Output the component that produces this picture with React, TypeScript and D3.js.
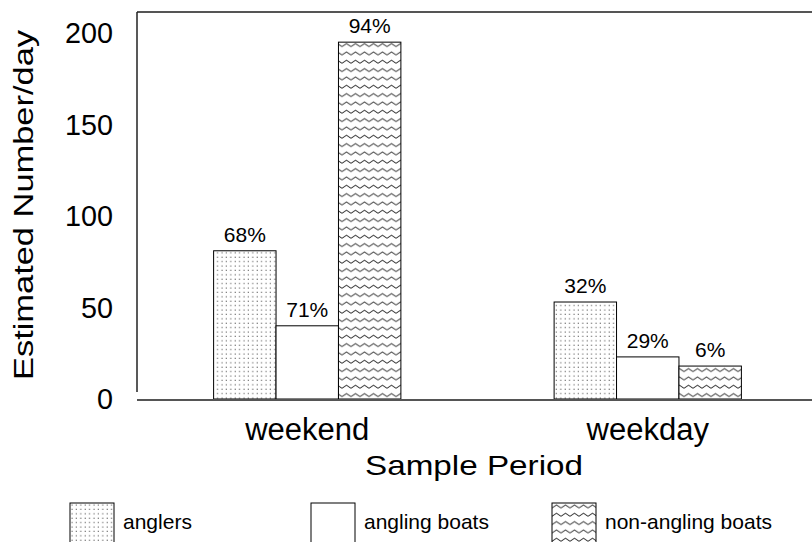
import React from 'react';
import * as d3 from 'd3';

const periods = ['weekend', 'weekday'];
const seriesNames = ['anglers', 'angling boats', 'non-angling boats'];
const anglers = [81, 53];
const anglingBoats = [40, 23];
const nonAnglingBoats = [195, 18];
const anglersPct = ['68%', '32%'];
const anglingBoatsPct = ['71%', '29%'];
const nonAnglingPct = ['94%', '6%'];
const yTicks = [0, 50, 100, 150, 200];

const W = 812;
const H = 542;
const font = '"Liberation Sans", Arial, sans-serif';

export default function App() {
  const x0 = d3.scaleBand<string>().domain(periods).range([137, 818]).paddingInner(0.45).paddingOuter(0.225);
  const x1 = d3.scaleBand<string>().domain(seriesNames).range([0, x0.bandwidth()]);
  const y = d3.scaleLinear().domain([0, 200]).range([399, 33]);

  const values = [anglers, anglingBoats, nonAnglingBoats];
  const pcts = [anglersPct, anglingBoatsPct, nonAnglingPct];
  const fills = ['url(#dots)', '#ffffff', 'url(#zigzag)'];

  const bars = periods.flatMap((p, i) =>
    seriesNames.map((s, j) => ({ p, s, v: values[j][i], pct: pcts[j][i], fill: fills[j] }))
  );

  const legendX = d3.scalePoint<string>().domain(seriesNames).range([70, 552]);

  return (
    <svg width={W} height={H} style={{ position: 'fixed', left: 0, top: 0, background: '#fff' }}>
      <defs>
        <pattern id="dots" patternUnits="userSpaceOnUse" width={4.4} height={4.4}>
          <rect width={4.4} height={4.4} fill="#fff" />
          <rect x={1.5} y={1.5} width={1} height={1} fill="#333" />
        </pattern>
        <pattern id="zigzag" patternUnits="userSpaceOnUse" width={9} height={25 / 3}>
          <rect width={9} height={25 / 3} fill="#fff" />
          <path d="M0,5 L4.5,2 L9,5" fill="none" stroke="#333" strokeWidth={1} />
        </pattern>
      </defs>

      {/* frame */}
      <line x1={137} x2={812} y1={12} y2={12} stroke="#555" strokeWidth={2} />
      <line x1={137} x2={137} y1={12} y2={392} stroke="#222" strokeWidth={1.5} />

      {/* bars */}
      {bars.map((d, k) => {
        const bx = (x0(d.p) ?? 0) + (x1(d.s) ?? 0);
        const bw = x1.bandwidth();
        return (
          <g key={k}>
            <rect x={bx} y={y(d.v)} width={bw} height={y(0) - y(d.v)} fill={d.fill} stroke="#000" strokeWidth={1} />
            <text x={bx + bw / 2} y={y(d.v) - 9} textAnchor="middle" fontFamily={font} fontSize={21} fill="#000">
              {d.pct}
            </text>
          </g>
        );
      })}

      <line x1={137} x2={812} y1={400} y2={400} stroke="#555" strokeWidth={2} />

      {/* y ticks */}
      {yTicks.map((t) => (
        <text key={t} x={113} y={y(t)} dy="0.36em" textAnchor="end" fontFamily={font} fontSize={29}
          textLength={String(t).length * 16} lengthAdjust="spacingAndGlyphs">
          {t}
        </text>
      ))}
      <text transform="translate(33,205) rotate(-90)" textAnchor="middle" fontFamily={font} fontSize={27}
        textLength={350} lengthAdjust="spacingAndGlyphs">
        Estimated Number/day
      </text>

      {/* x ticks */}
      {periods.map((p) => (
        <text key={p} x={(x0(p) ?? 0) + x0.bandwidth() / 2} y={440} textAnchor="middle" fontFamily={font} fontSize={31}>
          {p}
        </text>
      ))}
      <text x={474} y={475} textAnchor="middle" fontFamily={font} fontSize={28} textLength={218} lengthAdjust="spacingAndGlyphs">
        Sample Period
      </text>

      {/* legend */}
      {seriesNames.map((s, j) => (
        <g key={s} transform={`translate(${legendX(s)},503)`}>
          <rect x={0} y={0} width={44} height={44} fill={fills[j]} stroke="#000" strokeWidth={1} />
          <text x={53} y={26} fontFamily={font} fontSize={21}>{s}</text>
        </g>
      ))}
    </svg>
  );
}
